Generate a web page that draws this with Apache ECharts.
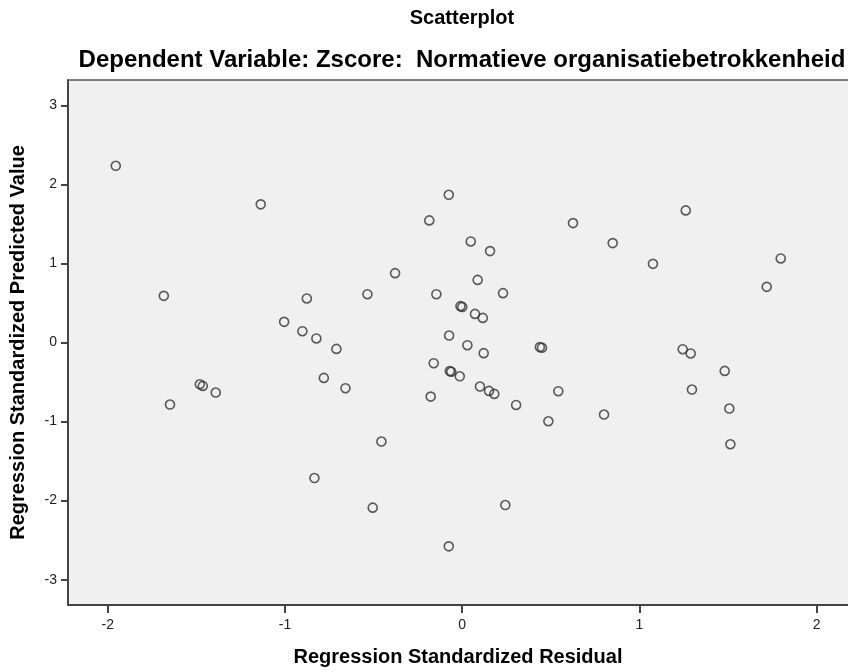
<!DOCTYPE html>
<html>
<head>
<meta charset="utf-8">
<script src="https://cdn.jsdelivr.net/npm/echarts@6/dist/echarts.min.js"></script>
<style>html,body{margin:0;padding:0;background:#fff}#c{width:848px;height:672px}</style>
</head>
<body>
<div id="c"></div>
<script>
// Regression Standardized Residual (x)
var residual = [-1.955,-1.137,-1.684,-0.877,-1.005,-0.902,-0.823,-0.076,-0.186,0.625,0.048,0.157,-0.379,0.087,-0.535,-0.146,0.230,-0.010,0.000,0.072,0.116,-0.074,0.029,0.121,0.438,0.450,-0.710,-0.161,1.261,0.849,1.076,1.797,1.718,1.244,1.289,-1.481,-1.464,-1.391,-1.649,-0.781,-0.834,-0.659,-0.070,-0.062,-0.014,0.100,0.151,0.181,0.304,0.542,0.486,-0.178,-0.456,-0.505,0.243,-0.076,1.481,1.296,0.800,1.507,1.513];
// Regression Standardized Predicted Value (y)
var predicted = [2.235,1.747,0.590,0.557,0.261,0.143,0.051,1.868,1.544,1.510,1.278,1.156,0.877,0.792,0.611,0.611,0.624,0.460,0.450,0.362,0.311,0.088,-0.034,-0.135,-0.058,-0.066,-0.081,-0.262,1.671,1.257,0.995,1.063,0.704,-0.085,-0.139,-0.528,-0.549,-0.633,-0.785,-0.448,-1.714,-0.578,-0.362,-0.370,-0.427,-0.557,-0.612,-0.650,-0.790,-0.616,-0.996,-0.684,-1.253,-2.089,-2.056,-2.578,-0.359,-0.595,-0.911,-0.835,-1.287];
var xTicks = [-2,-1,0,1,2];
var yTicks = [-3,-2,-1,0,1,2,3];
var titleText = 'Scatterplot';
var subtitleText = 'Dependent Variable: Zscore:  Normatieve organisatiebetrokkenheid';
var xName = 'Regression Standardized Residual';
var yName = 'Regression Standardized Predicted Value';

var pts = residual.map(function(v,i){return [v, predicted[i]];});
var FONT = '"Liberation Sans", Arial, sans-serif';
var XMIN = -2.2245, XMAX = 2.1766;
var chart = echarts.init(document.getElementById('c'), null, {renderer:'canvas'});
chart.setOption({
  animation:false,
  backgroundColor:'#ffffff',
  title:[
    {text:titleText, left:462, top:8, textAlign:'center', padding:0,
     textStyle:{fontFamily:FONT, fontSize:20, fontWeight:'bold', color:'#000'}},
    {text:subtitleText, left:462, top:48, textAlign:'center', padding:0,
     textStyle:{fontFamily:FONT, fontSize:24, fontWeight:'bold', color:'#000'}}
  ],
  grid:{left:68, top:80, width:780, height:525, show:true, backgroundColor:'#f0f0f0', borderWidth:0, containLabel:false},
  xAxis:[{type:'value', min:XMIN, max:XMAX,
    name:xName, nameLocation:'middle', nameGap:42,
    nameTextStyle:{fontFamily:FONT, fontSize:20, fontWeight:'bold', color:'#000'},
    axisLine:{show:true, onZero:false, lineStyle:{color:'#444', width:2}},
    axisTick:{show:true, length:8, lineStyle:{color:'#444', width:2}, customValues:xTicks},
    axisLabel:{fontFamily:FONT, fontSize:14, color:'#222', margin:13, customValues:xTicks},
    splitLine:{show:false}},
   {type:'value', position:'top', min:XMIN, max:XMAX,
    axisLine:{show:true, onZero:false, lineStyle:{color:'#555', width:1.5}},
    axisTick:{show:false}, axisLabel:{show:false}, splitLine:{show:false}}],
  yAxis:{type:'value', min:-3.32, max:3.32,
    name:yName, nameLocation:'middle', nameGap:40, nameRotate:90,
    nameTextStyle:{fontFamily:FONT, fontSize:20, fontWeight:'bold', color:'#000'},
    axisLine:{show:true, onZero:false, lineStyle:{color:'#444', width:2}},
    axisTick:{show:true, length:7, lineStyle:{color:'#444', width:2}, customValues:yTicks},
    axisLabel:{fontFamily:FONT, fontSize:14, color:'#222', margin:11, customValues:yTicks},
    splitLine:{show:false}},
  series:[{type:'scatter', xAxisIndex:0, data:pts, symbol:'circle', symbolSize:9,
    itemStyle:{color:'rgba(0,0,0,0)', borderColor:'#333', borderWidth:1.6}}]
});
</script>
</body>
</html>
